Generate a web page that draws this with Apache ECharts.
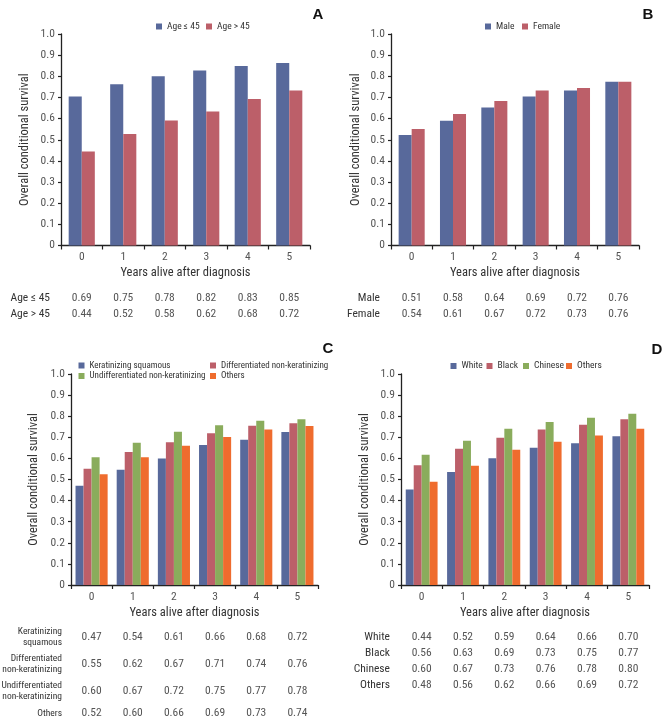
<!DOCTYPE html>
<html><head><meta charset="utf-8">
<script src="https://cdn.jsdelivr.net/npm/echarts@6/dist/echarts.min.js"></script>
<style>html,body{margin:0;padding:0;background:#fff}#chart{width:668px;height:722px}</style>
</head><body><div id="chart"></div>
<script>
// ---------- data ----------
const categories = ['0', '1', '2', '3', '4', '5'];

// Panel A (age)
const ageLe45Bars = [0.705, 0.763, 0.800, 0.828, 0.849, 0.863];
const ageGt45Bars = [0.445, 0.527, 0.591, 0.634, 0.693, 0.733];
const ageLe45Table = ['0.69', '0.75', '0.78', '0.82', '0.83', '0.85'];
const ageGt45Table = ['0.44', '0.52', '0.58', '0.62', '0.68', '0.72'];

// Panel B (sex)
const maleBars = [0.522, 0.590, 0.653, 0.705, 0.733, 0.774];
const femaleBars = [0.551, 0.622, 0.683, 0.733, 0.745, 0.774];
const maleTable = ['0.51', '0.58', '0.64', '0.69', '0.72', '0.76'];
const femaleTable = ['0.54', '0.61', '0.67', '0.72', '0.73', '0.76'];

// Panel C (histology)
const keratBars = [0.470, 0.546, 0.600, 0.663, 0.688, 0.725];
const diffBars = [0.551, 0.630, 0.677, 0.719, 0.755, 0.767];
const undiffBars = [0.605, 0.674, 0.726, 0.757, 0.778, 0.786];
const othersCBars = [0.525, 0.605, 0.660, 0.702, 0.737, 0.753];
const keratTable = ['0.47', '0.54', '0.61', '0.66', '0.68', '0.72'];
const diffTable = ['0.55', '0.62', '0.67', '0.71', '0.74', '0.76'];
const undiffTable = ['0.60', '0.67', '0.72', '0.75', '0.77', '0.78'];
const othersCTable = ['0.52', '0.60', '0.66', '0.69', '0.73', '0.74'];

// Panel D (race)
const whiteBars = [0.453, 0.535, 0.601, 0.650, 0.672, 0.705];
const blackBars = [0.568, 0.646, 0.698, 0.737, 0.759, 0.786];
const chineseBars = [0.617, 0.684, 0.740, 0.772, 0.793, 0.812];
const othersDBars = [0.489, 0.565, 0.641, 0.679, 0.709, 0.740];
const whiteTable = ['0.44', '0.52', '0.59', '0.64', '0.66', '0.70'];
const blackTable = ['0.56', '0.63', '0.69', '0.73', '0.75', '0.77'];
const chineseTable = ['0.60', '0.67', '0.73', '0.76', '0.78', '0.80'];
const othersDTable = ['0.48', '0.56', '0.62', '0.66', '0.69', '0.72'];

const yAxisTitle = 'Overall conditional survival';
const xAxisTitle = 'Years alive after diagnosis';

// ---------- styling ----------
const FONT = '"Roboto Condensed","Liberation Sans Narrow","Arial Narrow",Roboto,sans-serif';
const BLUE = '#58699b', RED = '#bc5f69', GREEN = '#8aac5c', ORANGE = '#ef6c2e';
const AXIS = '#222';
const TICK_FS = 11.5, NAME_FS = 12.5;

const panels = [
  {
    letter: 'A', lx: 318, ly: 15,
    grid: { left: 61, top: 34, width: 249, height: 211.5 },
    yNameGap: 29.5, xNameGap: 20.5, catGap: '37%', legFs: 9.5,
    series: [
      { name: 'Age ≤ 45', data: ageLe45Bars, color: BLUE, lg: [156, 21.5] },
      { name: 'Age > 45', data: ageGt45Bars, color: RED, lg: [206, 21.5] }
    ],
    rowFont: 11.5, rowGap: 11,
    rows: [
      { label: 'Age ≤ 45', values: ageLe45Table, offset: 52.2 },
      { label: 'Age > 45', values: ageGt45Table, offset: 68.8 }
    ]
  },
  {
    letter: 'B', lx: 648, ly: 15,
    grid: { left: 391, top: 34, width: 248, height: 211.5 },
    yNameGap: 29, xNameGap: 20.5, catGap: '37%', legFs: 9.5,
    series: [
      { name: 'Male', data: maleBars, color: BLUE, lg: [485, 21.5] },
      { name: 'Female', data: femaleBars, color: RED, lg: [522, 21.5] }
    ],
    rowFont: 11.5, rowGap: 11,
    rows: [
      { label: 'Male', values: maleTable, offset: 52.2 },
      { label: 'Female', values: femaleTable, offset: 68.5 }
    ]
  },
  {
    letter: 'C', lx: 328, ly: 349,
    grid: { left: 71, top: 374, width: 247, height: 211 },
    yNameGap: 31, xNameGap: 21, catGap: '22%', legFs: 9,
    series: [
      { name: 'Keratinizing squamous', data: keratBars, color: BLUE, lg: [78.5, 361] },
      { name: 'Differentiated non-keratinizing', data: diffBars, color: RED, lg: [210, 361] },
      { name: 'Undifferentiated non-keratinizing', data: undiffBars, color: GREEN, lg: [78.5, 371.5] },
      { name: 'Others', data: othersCBars, color: ORANGE, lg: [210, 371.5] }
    ],
    rowFont: 9.5, rowGap: 9,
    rows: [
      { label: 'Keratinizing\nsquamous', values: keratTable, offset: 51.7 },
      { label: 'Differentiated\nnon-keratinizing', values: diffTable, offset: 79 },
      { label: 'Undifferentiated\nnon-keratinizing', values: undiffTable, offset: 106 },
      { label: 'Others', values: othersCTable, offset: 128.3 }
    ]
  },
  {
    letter: 'D', lx: 657, ly: 350,
    grid: { left: 401, top: 374, width: 248, height: 211 },
    yNameGap: 30, xNameGap: 21, catGap: '23%', legFs: 9.5,
    series: [
      { name: 'White', data: whiteBars, color: BLUE, lg: [450.5, 361] },
      { name: 'Black', data: blackBars, color: RED, lg: [486.5, 361] },
      { name: 'Chinese', data: chineseBars, color: GREEN, lg: [523, 361] },
      { name: 'Others', data: othersDBars, color: ORANGE, lg: [566, 361] }
    ],
    rowFont: 11.5, rowGap: 11,
    rows: [
      { label: 'White', values: whiteTable, offset: 52 },
      { label: 'Black', values: blackTable, offset: 68.3 },
      { label: 'Chinese', values: chineseTable, offset: 84.3 },
      { label: 'Others', values: othersDTable, offset: 100.3 }
    ]
  }
];

const option = {
  animation: false,
  backgroundColor: '#fff',
  textStyle: { fontFamily: FONT },
  grid: [], xAxis: [], yAxis: [], series: [], legend: [], graphic: []
};

panels.forEach((p, gi) => {
  option.grid.push(Object.assign({ containLabel: false, outerBoundsMode: 'none' }, p.grid));
  const mainX = option.xAxis.length;
  option.xAxis.push({
    type: 'category', gridIndex: gi, data: categories, position: 'bottom',
    axisLine: { show: true, lineStyle: { color: AXIS, width: 1.3 } },
    axisTick: { show: true, length: 4, lineStyle: { color: AXIS, width: 1.2 } },
    axisLabel: { margin: 6, fontSize: TICK_FS, color: '#555', fontFamily: FONT },
    name: xAxisTitle, nameLocation: 'middle', nameGap: p.xNameGap,
    nameTextStyle: { fontSize: NAME_FS, color: '#333', fontFamily: FONT }
  });
  p.rows.forEach(r => {
    option.xAxis.push({
      type: 'category', gridIndex: gi, data: categories, position: 'bottom', offset: r.offset,
      axisLine: { show: false }, axisTick: { show: false }, splitLine: { show: false },
      axisLabel: {
        interval: 0, margin: 0, verticalAlign: 'middle', fontSize: TICK_FS, color: '#555', fontFamily: FONT,
        formatter: (v, idx) => r.values[idx]
      },
      name: r.label, nameLocation: 'start', nameGap: p.rowGap,
      nameTextStyle: { fontSize: p.rowFont, lineHeight: p.rowFont + 1.5, color: '#333', fontFamily: FONT, align: 'right', verticalAlign: 'middle' }
    });
  });
  option.yAxis.push({
    type: 'value', gridIndex: gi, min: 0, max: 1, interval: 0.1,
    splitLine: { show: false },
    axisLine: { show: true, lineStyle: { color: AXIS, width: 1.3 } },
    axisTick: { show: true, length: 3, lineStyle: { color: AXIS, width: 1.2 } },
    axisLabel: { margin: 6, fontSize: TICK_FS, color: '#555', fontFamily: FONT,
      formatter: v => (Math.abs(v) < 1e-9 ? '0' : v.toFixed(1)) },
    name: yAxisTitle, nameLocation: 'middle', nameGap: p.yNameGap,
    nameTextStyle: { fontSize: NAME_FS, color: '#333', fontFamily: FONT }
  });
  p.series.forEach(s => {
    option.series.push({
      type: 'bar', name: s.name, xAxisIndex: mainX, yAxisIndex: gi, data: s.data,
      barGap: '0%', barCategoryGap: p.catGap,
      itemStyle: { color: s.color }
    });
    option.legend.push({
      data: [s.name], left: s.lg[0], top: s.lg[1], icon: 'rect', itemWidth: 6, itemHeight: 6,
      selectedMode: false, padding: 0,
      textStyle: { fontSize: p.legFs, color: '#333', fontFamily: FONT }
    });
  });
  option.graphic.push({
    type: 'text', x: p.lx, y: p.ly,
    style: { text: p.letter, align: 'center', verticalAlign: 'middle',
      font: 'bold 15px "Liberation Sans", Arial, sans-serif', fill: '#111' }
  });
});

const chart = echarts.init(document.getElementById('chart'), null, { renderer: 'canvas' });
chart.setOption(option);
</script>
</body></html>
